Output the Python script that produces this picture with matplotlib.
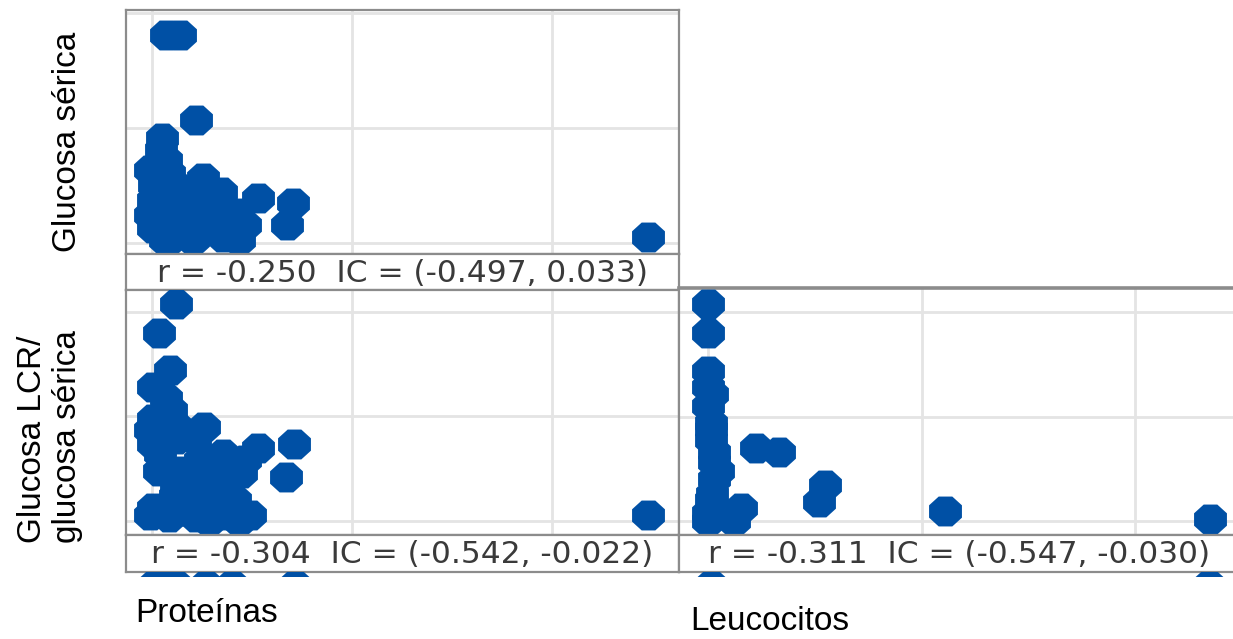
import numpy as np
import matplotlib
matplotlib.use("Agg")
import matplotlib.pyplot as plt

# ---- data ----
# Proteinas vs Glucosa serica (top left)
prot_a = [35, 70, 110, 25, 22, 35, 42, 5, 128, 172, 2, 85, 265, 352, 160,
          210, 60, 102, 338, 2, 42, 102, 178, 218, 1240,
          -5, 57, 108, -5, 45, 132, 182, 232, 32, 82, 145]
gluc_serica = [362, 362, 214, 183, 162, 144, 122, 101, 113, 89, 75, 75, 78,
               70, 57, 52, 45, 40, 31, 26, 5, 5, 10, 5, 10,
               127, 101, 92, 49, 66, 66, 49, 31, 5, 23, 26]

# Proteinas vs Glucosa LCR / glucosa serica (bottom left)
prot_b = [60, 18, 45, 2, 35, 48, 2, 130, 2, 60, 265, 355, 178, 222, 18, 78,
          335, 60, 118, 178, 118, 168, 2, 42, 110, 142, 218, 1240,
          -5, 57, 108, 20, 120, 182, 232, 57, 108, 207, -5, 70, 182, 245, 120]
ratio_b = [1.04, 0.90, 0.72, 0.64, 0.59, 0.53, 0.49, 0.45, 0.37, 0.39, 0.35,
           0.37, 0.32, 0.23, 0.24, 0.24, 0.21, 0.16, 0.16, 0.16, 0.09, 0.09,
           0.06, 0.02, 0.02, 0.00, 0.00, 0.03,
           0.435, 0.46, 0.39, 0.32, 0.29, 0.24, 0.29, 0.12, 0.10, 0.10, 0.03,
           0.05, 0.03, 0.03, 0.22]

# Leucocitos vs Glucosa LCR / glucosa serica (bottom right)
leuc = [0, 0, 0, 0, 19, 0, 10, 10, 10, 24, 43, 28, 24, 19, 10, 0, 0, 152,
        119, 223, 333, 546, 518, 1112, 2351]
ratio_c = [1.04, 0.90, 0.72, 0.64, 0.61, 0.55, 0.47, 0.44, 0.39, 0.33, 0.24,
           0.28, 0.20, 0.13, 0.10, 0.04, 0.00, 0.06, 0.00, 0.35, 0.33, 0.17,
           0.09, 0.05, 0.01]

# tops of the markers of the (cropped) next row
next_prot = [5, 35, 60, 135, 200, 357]
next_leuc = [10, 2347]
next_val = -2.3

strip_texts = ["r = -0.250  IC = (-0.497, 0.033)",
               "r = -0.304  IC = (-0.542, -0.022)",
               "r = -0.311  IC = (-0.547, -0.030)"]

W, H = 1233, 639
BLUE = "#0050a5"
FRAME = "#8c8c8c"
GRID = "#e4e4e4"
MSIZE = 560

fig = plt.figure(figsize=(W / 100, H / 100), dpi=100)


def px_axes(x0, y0, x1, y1):
    return fig.add_axes([x0 / W, 1 - y1 / H, (x1 - x0) / W, (y1 - y0) / H])


ang = np.deg2rad(22.5 + 45 * np.arange(8))
octo = list(zip(1.1 * np.cos(ang), np.sin(ang)))


def panel(ax, x, y, xt, yt, xlim, ylim):
    ax.set_xlim(*xlim)
    ax.set_ylim(*ylim)
    ax.set_xticks(xt)
    ax.set_yticks(yt)
    ax.tick_params(length=0, labelbottom=False, labelleft=False)
    ax.grid(True, color=GRID, lw=2)
    ax.set_axisbelow(True)
    for s in ax.spines.values():
        s.set_color(FRAME)
        s.set_linewidth(1.6)
    ax.scatter(x, y, s=MSIZE, marker=octo, color=BLUE, linewidths=0, zorder=3)


def strip(ax, txt):
    ax.set_xticks([])
    ax.set_yticks([])
    for s in ax.spines.values():
        s.set_color(FRAME)
        s.set_linewidth(1.6)
    ax.text(0.5, 0.47, txt, ha="center", va="center", fontsize=22.5,
            color="#3a3a3a", family="DejaVu Sans", transform=ax.transAxes)


xl = (-65, 1317)
yl_top = (-19, 405)
yl_bl = (-0.067, 1.105)
yl_br = (-0.067, 1.115)
xr = (-138, 2494)

ax1 = px_axes(126, 10, 679, 254)
panel(ax1, prot_a, gluc_serica, [0, 500, 1000], [0, 200, 400], xl, yl_top)
strip(px_axes(126, 254, 679, 290), strip_texts[0])

ax2 = px_axes(126, 290, 679, 535)
panel(ax2, prot_b, ratio_b, [0, 500, 1000], [0, 0.5, 1.0], xl, yl_bl)
strip(px_axes(126, 535, 679, 572), strip_texts[1])

ax3 = px_axes(679, 288, 1240, 535)
panel(ax3, leuc, ratio_c, [0, 1000, 2000], [0, 0.5, 1.0], xr, yl_br)
ax3.spines["top"].set_linewidth(2.6)
strip(px_axes(679, 535, 1240, 572), strip_texts[2])

# cropped next row: only the top edge of its markers shows
for x0, x1, xs, lim in [(126, 679, next_prot, xl), (679, 1240, next_leuc, xr)]:
    axn = px_axes(x0, 572, x1, 576)
    axn.set_xlim(*lim)
    axn.set_ylim(0, 1)
    axn.axis("off")
    axn.scatter(xs, [next_val] * len(xs), s=MSIZE, marker=octo, color=BLUE,
                linewidths=0, clip_on=True)

lab = dict(fontsize=24, family="Liberation Sans", color="black")
fig.text(68 / W, 1 - 142 / H, "Glucosa sérica", rotation=90,
         ha="center", va="center", **lab)
fig.text(50 / W, 1 - 437 / H, "Glucosa LCR/\nglucosa sérica", rotation=90,
         ha="center", va="center", multialignment="left", linespacing=1.15, **lab)
fig.text(135 / W, 1 - 614 / H, "Proteínas", ha="left", va="center", **lab)
fig.text(690 / W, 1 - 621 / H, "Leucocitos", ha="left", va="center", **lab)

fig.savefig("out.png", dpi=100)
